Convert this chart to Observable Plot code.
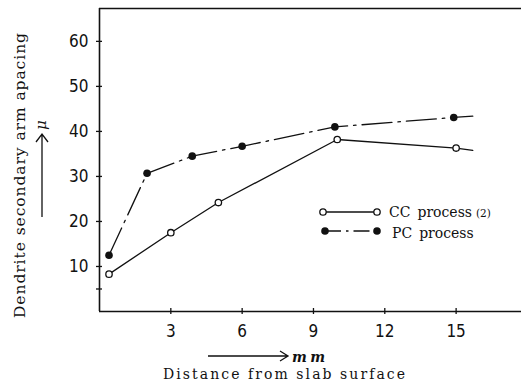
<!DOCTYPE html>
<html><head><meta charset="utf-8">
<script src="https://cdn.jsdelivr.net/npm/d3@7"></script>
<script src="https://cdn.jsdelivr.net/npm/@observablehq/plot@0.6"></script>
<style>
body{margin:0;background:#fff;}
</style></head><body><div id="chart"></div>
<script>
// ---- data ----
const ccX = [0.4, 3, 5, 10, 15];
const ccY = [8.3, 17.5, 24.2, 38.2, 36.3];
const ccTail = [15.7, 35.8];          // line continues past last point
const pcX = [0.4, 2, 3.9, 6, 9.9, 14.9];
const pcY = [12.5, 30.7, 34.5, 36.7, 41.0, 43.1];
const pcTail = [15.7, 43.4];
const xTicks = [3, 6, 9, 12, 15];
const yTicks = [10, 20, 30, 40, 50, 60];
const yMinorTicks = [5];
const seriesNames = ["CC process", "PC process"];
const xMax = 17.75, yMax = 67.3;

const cc = ccX.map((x, i) => ({x, y: ccY[i]}));
const pc = pcX.map((x, i) => ({x, y: pcY[i]}));
const ccLine = cc.concat([{x: ccTail[0], y: ccTail[1]}]);
const pcLine = pc.concat([{x: pcTail[0], y: pcTail[1]}]);

const numFont = "'Liberation Sans Narrow', 'DejaVu Sans Condensed', 'Liberation Sans', sans-serif";
const serif = "'DejaVu Serif', 'Liberation Serif', serif";

const plot = Plot.plot({
  width: 521, height: 382,
  marginLeft: 99, marginRight: 0, marginTop: 8, marginBottom: 71,
  x: {domain: [0, xMax]},
  y: {domain: [0, yMax]},
  style: {background: "#fff", color: "#111", overflow: "visible"},
  marks: [
    Plot.ruleX([0], {stroke: "#111", strokeWidth: 1.6}),
    Plot.ruleY([0], {stroke: "#111", strokeWidth: 1.6}),
    Plot.ruleY([yMax], {stroke: "#111", strokeWidth: 1.6}),
    Plot.axisY(yTicks.concat(yMinorTicks), {tickSize: 6, dx: 3, fill: "none", label: null, strokeWidth: 1.3}),
    Plot.axisY(yTicks, {tickSize: 0, tickPadding: 11, stroke: "none", label: null,
      fontSize: 17, fontFamily: numFont, fill: "#111"}),
    Plot.axisX(xTicks, {tickSize: 6, dy: -3, fill: "none", label: null, strokeWidth: 1.3}),
    Plot.axisX(xTicks, {tickSize: 0, tickPadding: 13, stroke: "none", label: null,
      fontSize: 17, fontFamily: numFont, fill: "#111"}),
    Plot.line(ccLine, {x: "x", y: "y", stroke: "#111", strokeWidth: 1.3}),
    Plot.line(pcLine, {x: "x", y: "y", stroke: "#111", strokeWidth: 1.3, strokeDasharray: "30,6,2.5,6"}),
    Plot.dot(cc, {x: "x", y: "y", r: 3.2, fill: "#fff", stroke: "#111", strokeWidth: 1.3}),
    Plot.dot(pc, {x: "x", y: "y", r: 3.8, fill: "#111", stroke: "none"})
  ]
});
document.getElementById("chart").appendChild(plot);

// ---- annotations: axis titles, arrows, legend ----
const svg = d3.select(plot);
const g = svg.append("g").attr("fill", "#111").attr("stroke", "none").attr("text-anchor", "start");

// y title (rotated)
g.append("text")
  .attr("transform", "translate(25,318) rotate(-90)")
  .attr("font-family", serif).attr("font-size", 15.5)
  .attr("textLength", 285).attr("lengthAdjust", "spacing")
  .text("Dendrite secondary arm apacing");
// y arrow with μ
g.append("path").attr("d", "M42,217 V134 M36,142 L42,134 L48,142")
  .attr("fill", "none").attr("stroke", "#111").attr("stroke-width", 1.3);
g.append("text")
  .attr("transform", "translate(46,125) rotate(-90)")
  .attr("font-family", serif).attr("font-style", "italic").attr("font-size", 15)
  .attr("text-anchor", "middle").text("μ");

// x arrow with mm
g.append("path").attr("d", "M208,356 H287 M280,351 L288,356 L280,361")
  .attr("fill", "none").attr("stroke", "#111").attr("stroke-width", 1.3);
g.append("text").attr("x", 292).attr("y", 362)
  .attr("font-family", serif).attr("font-style", "italic").attr("font-size", 14)
  .attr("font-weight", "bold")
  .attr("textLength", 33).attr("lengthAdjust", "spacing")
  .text("mm");
// x title
g.append("text").attr("x", 163).attr("y", 379)
  .attr("font-family", serif).attr("font-size", 14)
  .attr("textLength", 242).attr("lengthAdjust", "spacing")
  .text("Distance from slab surface");

// legend
const lg = svg.append("g").attr("text-anchor", "start");
lg.append("line").attr("x1", 323).attr("x2", 377).attr("y1", 212).attr("y2", 212)
  .attr("stroke", "#111").attr("stroke-width", 1.3);
[323, 377].forEach(cx => lg.append("circle").attr("cx", cx).attr("cy", 212).attr("r", 3.2)
  .attr("fill", "#fff").attr("stroke", "#111").attr("stroke-width", 1.3));
lg.append("line").attr("x1", 325).attr("x2", 377).attr("y1", 231).attr("y2", 231)
  .attr("stroke", "#111").attr("stroke-width", 1.3).attr("stroke-dasharray", "16,5,2.5,5");
[325, 377].forEach(cx => lg.append("circle").attr("cx", cx).attr("cy", 231).attr("r", 3.8)
  .attr("fill", "#111"));
const t1 = lg.append("text").attr("x", 389).attr("y", 217)
  .attr("font-family", serif).attr("font-size", 14).attr("fill", "#111");
t1.append("tspan").text(seriesNames[0].replace(" ", "\u2002"));
t1.append("tspan").attr("font-size", 10.5).attr("dx", 4).text("(2)");
lg.append("text").attr("x", 392).attr("y", 238)
  .attr("font-family", serif).attr("font-size", 14).attr("fill", "#111")
  .text(seriesNames[1].replace(" ", "\u2002"));
</script></body></html>
